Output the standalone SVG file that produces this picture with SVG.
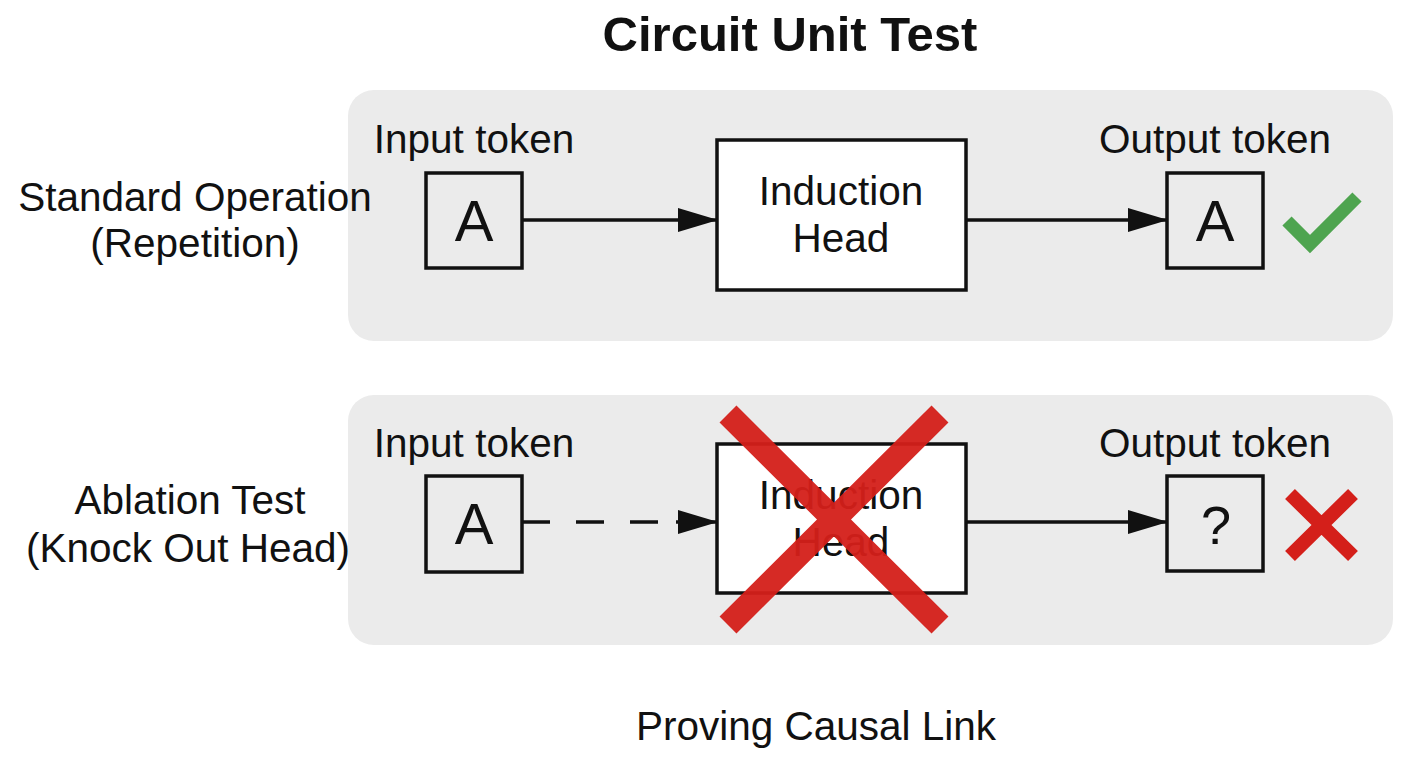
<svg xmlns="http://www.w3.org/2000/svg" width="1408" height="768" viewBox="0 0 1408 768">
<style>
text{font-family:"Liberation Sans",Arial,sans-serif;fill:#111}
.lbl{font-size:40.5px;text-anchor:middle}
.big{font-size:58px;text-anchor:middle}
.panel{fill:#ebebeb}
.box{fill:#ebebeb;stroke:#111;stroke-width:3.5}
.head{fill:#fff;stroke:#111;stroke-width:3.5}
.conn{stroke:#111;stroke-width:3.5;fill:none}
</style>
<defs>
<marker id="ah" markerWidth="40" markerHeight="24" refX="39" refY="12" markerUnits="userSpaceOnUse" orient="auto">
<path d="M0,0 L40,12 L0,24 Z" fill="#111"/>
</marker>
</defs>
<rect width="1408" height="768" fill="#fff"/>
<text x="790" y="51" font-size="49" font-weight="bold" text-anchor="middle">Circuit Unit Test</text>

<g id="panel-standard">
<rect class="panel" x="348" y="90" width="1045" height="251" rx="26"/>
<text class="lbl" x="195" y="211">Standard Operation</text>
<text class="lbl" x="195" y="257">(Repetition)</text>
<text class="lbl" x="474" y="153">Input token</text>
<text class="lbl" x="1215" y="153">Output token</text>
</g>
<g id="panel-ablation">
<rect class="panel" x="348" y="395" width="1045" height="250" rx="26"/>
<text class="lbl" x="190" y="514">Ablation Test</text>
<text class="lbl" x="188" y="562">(Knock Out Head)</text>
<text class="lbl" x="474" y="457">Input token</text>
<text class="lbl" x="1215" y="457">Output token</text>
</g>

<g id="connectors">
<line class="conn" x1="522" y1="220" x2="717" y2="220" marker-end="url(#ah)"/>
<line class="conn" x1="966" y1="220" x2="1167" y2="220" marker-end="url(#ah)"/>
<line class="conn" x1="522" y1="522" x2="679" y2="522" stroke-dasharray="28,26"/>
<line class="conn" x1="676" y1="522" x2="717" y2="522" marker-end="url(#ah)"/>
<line class="conn" x1="966" y1="522" x2="1167" y2="522" marker-end="url(#ah)"/>
</g>

<g id="input-a-1">
<rect class="box" x="426" y="173" width="96" height="95"/>
<text class="big" x="474" y="241">A</text>
</g>
<g id="induction-head-1">
<rect class="head" x="717" y="140" width="249" height="150"/>
<text class="lbl" x="841" y="205">Induction</text>
<text class="lbl" x="841" y="252">Head</text>
</g>
<g id="output-a-1">
<rect class="box" x="1167" y="173" width="96" height="95"/>
<text class="big" x="1215" y="241">A</text>
</g>
<g id="check">
<path d="M1287,221 L1310,244 L1357,197" fill="none" stroke="#4ea44f" stroke-width="13"/>
</g>

<g id="input-a-2">
<rect class="box" x="426" y="476" width="96" height="96"/>
<text class="big" x="474" y="544">A</text>
</g>
<g id="induction-head-2">
<rect class="head" x="717" y="444" width="249" height="149"/>
<text class="lbl" x="841" y="509">Induction</text>
<text class="lbl" x="841" y="556">Head</text>
<path d="M728,414 L940,625 M940,414 L728,625" stroke="#d41f1a" stroke-width="24" opacity="0.95"/>
</g>
<g id="output-q">
<rect class="box" x="1167" y="476" width="96" height="95"/>
<text x="1216" y="544" font-size="54" text-anchor="middle">?</text>
</g>
<g id="cross">
<path d="M1290,494 L1353,556 M1353,494 L1290,556" stroke="#d41f1a" stroke-width="14"/>
</g>

<text class="lbl" x="816" y="740">Proving Causal Link</text>
</svg>
